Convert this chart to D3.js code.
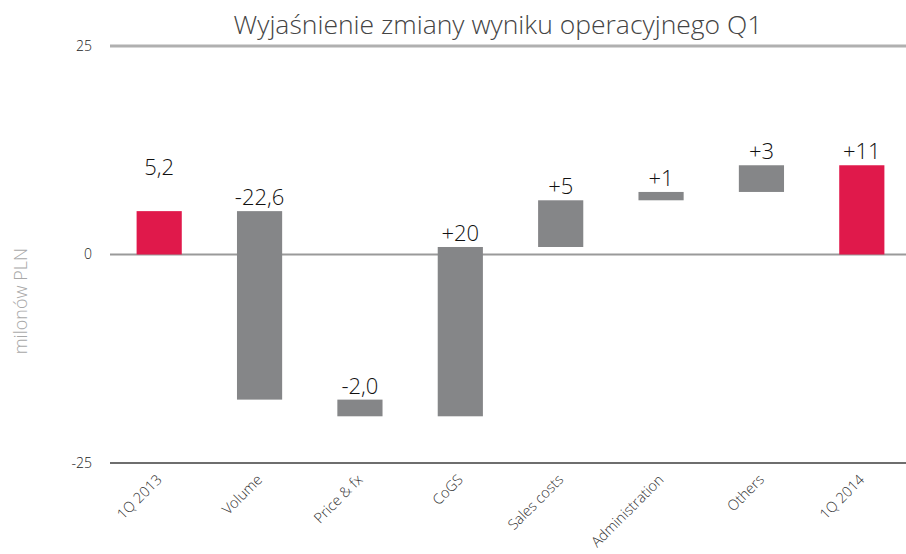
<html lang="pl">
<head>
<meta charset="UTF-8">
<title>Wyjaśnienie zmiany wyniku operacyjnego Q1</title>
<script src="https://d3js.org/d3.v7.min.js"></script>
<style>
  body { margin: 0; background: #fff; }
  text { font-family: "Open Sans", Lato, sans-serif; font-weight: 300; }
</style>
</head>
<body>
<svg id="chart"></svg>
<script>
// categories and waterfall steps (milonów PLN)
const categories = ["1Q 2013", "Volume", "Price & fx", "CoGS", "Sales costs", "Administration", "Others", "1Q 2014"]
const deltas = [5.2, -22.6, -2.0, 20.3, 5.6, 1.0, 3.2, null]   // null = total bar
const labels = ["5,2", "-22,6", "-2,0", "+20", "+5", "+1", "+3", "+11"]
const yTicks = [-25, 0, 25]

const width = 906, height = 554
const svg = d3.select('#chart').attr('width', width).attr('height', height)

// build waterfall start/end values
let running = 0
const bars = categories.map((c, i) => {
    let start, end, total
    if (i == 0) { start = 0; end = deltas[0]; total = true }
    else if (deltas[i] == null) { start = 0; end = running; total = true }
    else { start = running; end = running + deltas[i]; total = false }
    if (deltas[i] != null) running = end
    return { cat: c, start, end, total, label: labels[i] }
})

var x = d3.scaleBand()
    .domain(categories)
    .range([109, 912])
    .paddingInner(0.55)
    .paddingOuter(0.275)
var y = d3.scaleLinear()
    .domain([-25, 25])
    .range([463, 46])

// horizontal grid lines
const lineStyle = { "25": ["#b0b0b0", 3], "0": ["#9a9a9a", 2], "-25": ["#6e6e6e", 2] }
svg.append('g').selectAll('line')
    .data(yTicks)
    .enter().append('line')
    .attr('x1', 110).attr('x2', width)
    .attr('y1', d => y(d)).attr('y2', d => y(d))
    .attr('stroke', d => lineStyle[d][0])
    .attr('stroke-width', d => lineStyle[d][1])

svg.append('g').selectAll('text')
    .data(yTicks)
    .enter().append('text')
    .attr('x', 92).attr('y', d => y(d))
    .attr('dy', '0.35em')
    .attr('text-anchor', 'end')
    .attr('font-size', 14)
    .attr('font-weight', 400)
    .attr('fill', '#222')
    .text(d => d)

// bars
svg.append('g').selectAll('rect')
    .data(bars)
    .enter().append('rect')
    .attr('x', d => x(d.cat))
    .attr('width', x.bandwidth())
    .attr('y', d => y(Math.max(d.start, d.end)))
    .attr('height', d => Math.abs(y(d.start) - y(d.end)))
    .attr('fill', d => d.total ? '#e0194b' : '#858688')

// value labels (first one sits higher in the original)
svg.append('g').selectAll('text')
    .data(bars)
    .enter().append('text')
    .attr('x', d => x(d.cat) + x.bandwidth() / 2)
    .attr('y', (d, i) => y(Math.max(d.start, d.end)) - (i == 0 ? 36 : 6))
    .attr('text-anchor', 'middle')
    .attr('font-size', 22)
    .attr('fill', '#111')
    .text(d => d.label)

// category labels, rotated
svg.append('g').selectAll('text')
    .data(categories)
    .enter().append('text')
    .attr('transform', d => `translate(${x(d) + x.bandwidth() / 2},${477}) rotate(-45)`)
    .attr('text-anchor', 'end')
    .attr('dy', '0.35em')
    .attr('font-size', 14.5)
    .attr('font-weight', 400)
    .attr('fill', '#333')
    .text(d => d)

// y axis title
svg.append('text')
    .attr('transform', `translate(27,${y(-5.6)}) rotate(-90)`)
    .attr('text-anchor', 'middle')
    .attr('font-size', 18)
    .attr('fill', '#a8a8a8')
    .text('milonów PLN')

// title
svg.append('text')
    .attr('x', 498).attr('y', 34)
    .attr('text-anchor', 'middle')
    .attr('font-size', 26.5)
    .attr('fill', '#444')
    .text('Wyjaśnienie zmiany wyniku operacyjnego Q1')
</script>
</body>
</html>
